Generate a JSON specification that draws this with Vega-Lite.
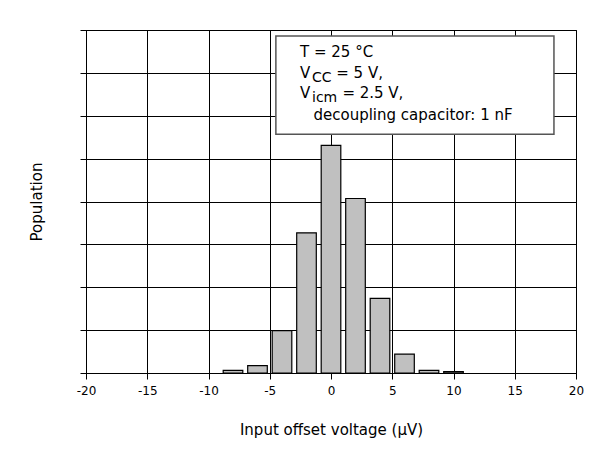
{
  "$schema": "https://vega.github.io/schema/vega-lite/v6.json",
  "width": 490,
  "height": 343,
  "autosize": "none",
  "padding": {"left": 86, "top": 30, "right": 30, "bottom": 92},
  "background": "white",
  "config": {
    "font": "DejaVu Sans",
    "view": {"stroke": "black", "strokeWidth": 1},
    "axis": {
      "domainColor": "black",
      "tickColor": "black",
      "gridColor": "black",
      "gridWidth": 1,
      "labelColor": "black",
      "titleColor": "black",
      "labelFont": "DejaVu Sans",
      "titleFont": "DejaVu Sans",
      "titleFontWeight": "normal"
    }
  },
  "datasets": {
    "bars": [
      {"lo": -8.8, "hi": -7.2, "count": 0.06},
      {"lo": -6.8, "hi": -5.2, "count": 0.17},
      {"lo": -4.8, "hi": -3.2, "count": 0.99},
      {"lo": -2.8, "hi": -1.2, "count": 3.27},
      {"lo": -0.8, "hi": 0.8, "count": 5.31},
      {"lo": 1.2, "hi": 2.8, "count": 4.07},
      {"lo": 3.2, "hi": 4.8, "count": 1.74},
      {"lo": 5.2, "hi": 6.8, "count": 0.44},
      {"lo": 7.2, "hi": 8.8, "count": 0.06},
      {"lo": 9.2, "hi": 10.8, "count": 0.03}
    ],
    "box": [
      {"x1": -4.5, "x2": 18.2, "y1": 5.57, "y2": 7.86}
    ],
    "texts": [
      {"tx": -2.53, "ty": 7.36, "label": "T = 25 °C", "size": 15},
      {"tx": -2.53, "ty": 6.89, "label": "V", "size": 15},
      {"tx": -1.55, "ty": 6.79, "label": "CC", "size": 14},
      {"tx": 0.43, "ty": 6.89, "label": "= 5 V,", "size": 15},
      {"tx": -2.53, "ty": 6.42, "label": "V", "size": 15},
      {"tx": -1.55, "ty": 6.33, "label": "icm", "size": 14},
      {"tx": 0.93, "ty": 6.42, "label": "= 2.5 V,", "size": 15},
      {"tx": -1.43, "ty": 5.9, "label": "decoupling capacitor: 1 nF", "size": 15}
    ]
  },
  "layer": [
    {
      "data": {"name": "bars"},
      "mark": {"type": "rect", "fill": "#c0c0c0", "stroke": "black", "strokeWidth": 1.2},
      "encoding": {
        "x": {
          "field": "lo",
          "type": "quantitative",
          "title": "Input offset voltage (µV)",
          "scale": {"domain": [-20, 20], "nice": false, "zero": false},
          "axis": {
            "titleFontSize": 15,
            "titlePadding": 26,
            "labelFontSize": 12,
            "labelPadding": 6,
            "values": [-20, -17.5, -15, -12.5, -10, -7.5, -5, -2.5, 0, 2.5, 5, 7.5, 10, 12.5, 15, 17.5, 20],
            "labelExpr": "datum.value % 5 === 0 ? ('' + datum.value) : ''",
            "grid": true,
            "gridOpacity": {"condition": {"test": "datum.value % 5 === 0", "value": 1}, "value": 0},
            "tickSize": {"condition": {"test": "datum.value % 5 === 0", "value": 6}, "value": 4},
            "labelFlush": false,
            "labelOverlap": false
          }
        },
        "x2": {"field": "hi"},
        "y": {
          "field": "count",
          "type": "quantitative",
          "title": "Population",
          "scale": {"domain": [0, 8], "nice": false},
          "axis": {
            "titleFontSize": 15,
            "titlePadding": 35,
            "labels": false,
            "values": [0, 0.5, 1, 1.5, 2, 2.5, 3, 3.5, 4, 4.5, 5, 5.5, 6, 6.5, 7, 7.5, 8],
            "grid": true,
            "gridOpacity": {"condition": {"test": "datum.value % 1 === 0", "value": 1}, "value": 0},
            "tickSize": 6
          }
        },
        "y2": {"datum": 0}
      }
    },
    {
      "data": {"name": "box"},
      "mark": {"type": "rect", "fill": "white", "stroke": "#555555", "strokeWidth": 1.5},
      "encoding": {
        "x": {"field": "x1", "type": "quantitative", "title": "Input offset voltage (µV)"},
        "x2": {"field": "x2"},
        "y": {"field": "y1", "type": "quantitative", "title": "Population"},
        "y2": {"field": "y2"}
      }
    },
    {
      "data": {"name": "texts"},
      "mark": {"type": "text", "align": "left", "baseline": "alphabetic", "color": "black", "font": "DejaVu Sans"},
      "encoding": {
        "x": {"field": "tx", "type": "quantitative", "title": "Input offset voltage (µV)"},
        "y": {"field": "ty", "type": "quantitative", "title": "Population"},
        "text": {"field": "label"},
        "size": {"field": "size", "type": "quantitative", "scale": null, "legend": null}
      }
    }
  ]
}
